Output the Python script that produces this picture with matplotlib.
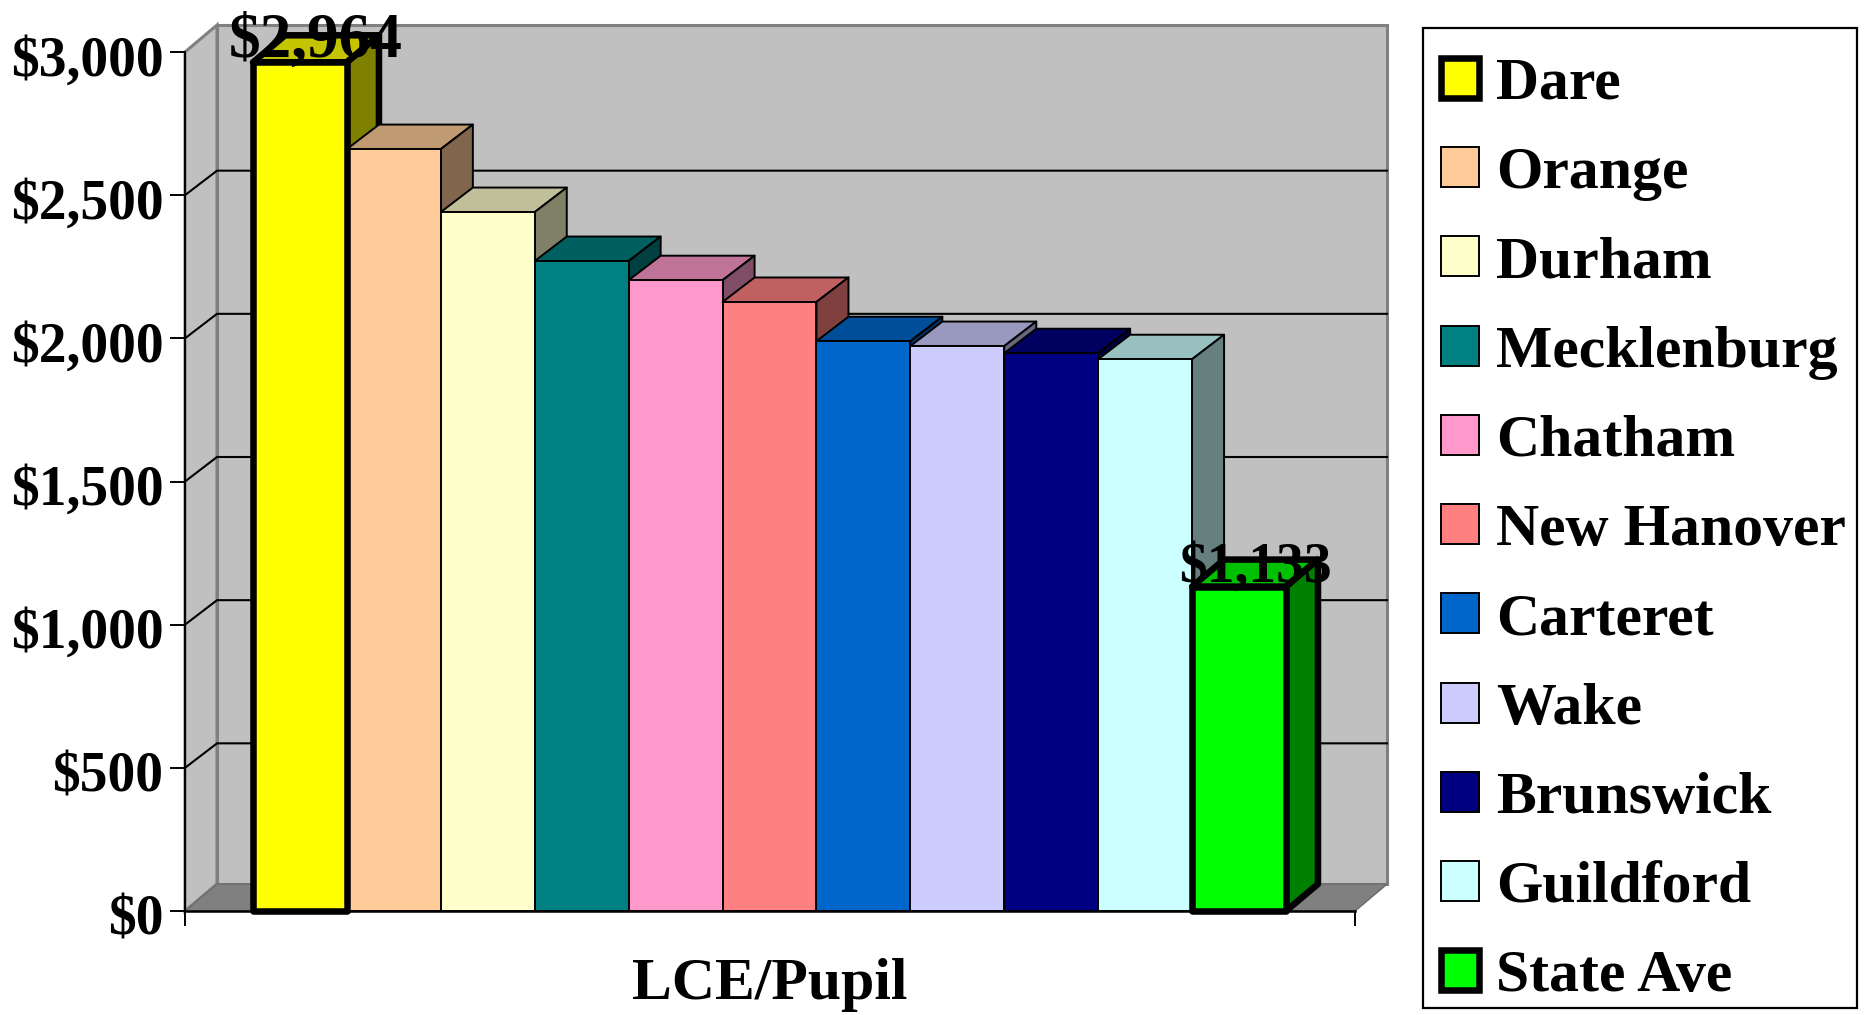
import matplotlib
matplotlib.use("Agg")
import matplotlib.pyplot as plt
from matplotlib.patches import Polygon, Patch, Rectangle
from matplotlib.transforms import ScaledTranslation

counties = ["Dare", "Orange", "Durham", "Mecklenburg", "Chatham", "New Hanover",
            "Carteret", "Wake", "Brunswick", "Guildford", "State Ave"]
values = [2964, 2661, 2441, 2270, 2203, 2127, 1990, 1973, 1948, 1927, 1133]
front = ["#FFFF00", "#FFCC99", "#FFFFCC", "#008080", "#FF99CC", "#FF8080",
         "#0066CC", "#CCCCFF", "#000080", "#CCFFFF", "#00FF00"]
top = ["#C4C400", "#C09A73", "#BFBF99", "#006060", "#C07399", "#C06060",
       "#004D99", "#9999C0", "#000060", "#99C0C0", "#00C000"]
side = ["#808000", "#80664D", "#808066", "#004040", "#804D66", "#804040",
        "#003366", "#666680", "#000040", "#668080", "#008000"]
highlight = ["Dare", "State Ave"]
labelled = {"Dare": "$2,964", "State Ave": "$1,133"}
yticks = [0, 500, 1000, 1500, 2000, 2500, 3000]
ytick_labels = ["$0", "$500", "$1,000", "$1,500", "$2,000", "$2,500", "$3,000"]
xlabel = "LCE/Pupil"

W, H = 1871, 1015
plt.rcParams["font.family"] = ["Liberation Serif", "DejaVu Serif"]
fig = plt.figure(figsize=(W / 100, H / 100), dpi=100, facecolor="white")
L, R, T, B = 185, 1355, 52, 911
ax = fig.add_axes([L / W, 1 - B / H, (R - L) / W, (B - T) / H])
ax.patch.set_alpha(0)
ymax = 3000
bar_px = 93.85
xmin, xmax = -(253 - L) / bar_px, 11 + (R - 1286) / bar_px
ax.set_xlim(xmin, xmax)
ax.set_ylim(0, ymax)
ddx = 32 / bar_px
ddy = 27 / (B - T) * ymax
ddy_in = 24.5 / (B - T) * ymax

# walls and floor
ax.add_patch(Polygon([(xmin, 0), (xmin + ddx, ddy), (xmin + ddx, ymax + ddy), (xmin, ymax)],
                     fc="#C0C0C0", ec="#808080", lw=2.2, clip_on=False, zorder=1))
ax.add_patch(Polygon([(xmin + ddx, ddy), (xmax + ddx, ddy), (xmax + ddx, ymax + ddy), (xmin + ddx, ymax + ddy)],
                     fc="#C0C0C0", ec="#808080", lw=2.2, clip_on=False, zorder=1))
ax.add_patch(Polygon([(xmin, 0), (xmax, 0), (xmax + ddx, ddy), (xmin + ddx, ddy)],
                     fc="#808080", ec="#707070", lw=1.2, clip_on=False, zorder=1))
# gridlines
for v in yticks[1:-1]:
    ax.plot([xmin, xmin + ddx, xmax + ddx], [v, v + ddy_in, v + ddy_in], color="black", lw=1.5,
            clip_on=False, zorder=2, solid_joinstyle="miter")

# bars
for i, (name, v) in enumerate(zip(counties, values)):
    thick = name in highlight
    lw = 4.7 if thick else 1.4
    z_back = 3 + i * 0.1
    z_front = 5 if thick else z_back + 0.05
    x0, x1 = i, i + 1
    kw = dict(ec="black", lw=lw, clip_on=False, joinstyle="round")
    d = ddy if thick else ddy_in
    ax.add_patch(Polygon([(x0, v), (x1, v), (x1 + ddx, v + d), (x0 + ddx, v + d)], fc=top[i], zorder=z_back, **kw))
    ax.add_patch(Polygon([(x1, 0), (x1 + ddx, d), (x1 + ddx, v + d), (x1, v)], fc=side[i], zorder=z_back, **kw))
    ax.add_patch(Polygon([(x0, 0), (x1, 0), (x1, v), (x0, v)], fc=front[i], zorder=z_front, **kw))
    if name in labelled:
        ax.text(i + 0.5 + ddx / 2, v + 18, labelled[name], ha="center", va="baseline",
                fontsize=45.5 if name == "Dare" else 40, fontweight="bold",
                color="black", zorder=6, clip_on=False)

# axes
for s in ["top", "right"]:
    ax.spines[s].set_visible(False)
ax.spines["left"].set_linewidth(1.4)
ax.spines["bottom"].set_linewidth(1.8)
ax.spines["left"].set_zorder(2)
ax.spines["bottom"].set_zorder(2)
ax.set_yticks(yticks)
ax.set_yticklabels(ytick_labels, fontsize=40, fontweight="bold")
ax.tick_params(axis="y", length=11, width=1.4, pad=4.5)
shift = ScaledTranslation(0, -2.5 / 72, fig.dpi_scale_trans)
for lab in ax.get_yticklabels():
    lab.set_transform(lab.get_transform() + shift)
ax.set_xticks([xmin, xmax])
ax.set_xticklabels(["", ""])
ax.tick_params(axis="x", length=11, width=1.4)
ax.set_xlabel(xlabel, fontsize=43, fontweight="bold", labelpad=19)

# legend: frame spans a fixed box, entries placed inside it
fig.add_artist(Rectangle((1423 / W, 1 - 1008 / H), (1857 - 1423) / W, (1008 - 28) / H,
                         transform=fig.transFigure, fc="white", ec="black", lw=1.6))
handles = [Patch(fc=c, ec="black", lw=4.7 if n in highlight else 1.4, label=n)
           for n, c in zip(counties, front)]
leg = fig.legend(handles=handles, loc="upper left",
                 bbox_to_anchor=(1423 / W, 1 - 40 / H, (1857 - 1423) / W, 0),
                 bbox_transform=fig.transFigure, borderaxespad=0, mode="expand",
                 prop={"size": 43, "weight": "bold"}, frameon=False,
                 handlelength=0.63, handleheight=0.65,
                 handletextpad=0.29, labelspacing=0.59, borderpad=0.3, labelcolor="black")

fig.savefig("out.png", dpi=100, facecolor="white")
